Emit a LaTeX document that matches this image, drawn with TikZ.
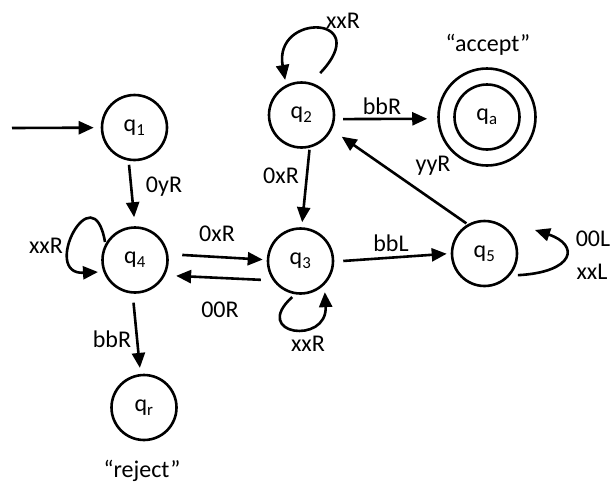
\documentclass[tikz,border=0pt]{standalone}
\usepackage{fontspec}
\setmainfont{Carlito}
\usetikzlibrary{arrows.meta,calc}
\newcommand{\qst}[1]{q\textsubscript{#1}}

\begin{document}
\begin{tikzpicture}[x=1pt, y=-1pt,
    state/.style={draw, circle, line width=2.6pt, minimum size=65pt, inner sep=0pt, font=\fontsize{24}{28}\selectfont},
    tr/.style={-{Triangle[length=15pt,width=13pt]}, line width=2.6pt},
    lbl/.style={font=\fontsize{24}{28}\selectfont, inner sep=0pt}]
    \useasboundingbox (0,0) rectangle (612,485);

    % states
    \node[state] (q1) at (134.5,127.5) {\qst{1}};
    \node[state] (q2) at (301.5,115) {\qst{2}};
    \node[state] (q3) at (300.5,261) {\qst{3}};
    \node[state] (q4) at (135,260) {\qst{4}};
    \node[state] (q5) at (484.5,253.5) {\qst{5}};
    \node[state] (qr) at (144,407.5) {\qst{r}};
    \node[state] (qa) at (487,117) {\qst{a}};
    \node[state, minimum size=97pt] (qaout) at (qa) {};
    \coordinate (start) at (12,128);

    % transitions
    \draw[tr, shorten >=7pt] (start) -- (q1);
    \draw[tr, shorten <=4pt, shorten >=9pt] (q1.-100) -- (q4.90);
    \draw[tr, shorten <=2pt, shorten >=5pt] (q2.-76) -- (q3.88);
    \draw[tr, shorten <=8pt, shorten >=10pt] (q2.-7) -- (qaout.-178);
    \draw[tr, shorten <=1.5pt, shorten >=12pt] (q5.120) -- (q2.-26);
    \draw[tr, shorten <=9pt, shorten >=4pt] (q3.-1) -- (q5.180);
    \draw[tr, shorten <=14pt, shorten >=4pt] (q4.10) -- (q3.178);
    \draw[tr, shorten <=12pt, shorten >=11pt] (q3.-145) -- (q4.-27);
    \draw[tr, shorten <=9pt, shorten >=6pt] (q4.-94) -- (qr.96);

    % loops
    \draw[tr] ($(q2)!45.9pt!(q2.66)$) .. controls +(55,-58) and +(-12,-68) .. ($(q2)!38.7pt!(q2.115)$);
    \draw[tr] ($(q3)!37pt!(q3.-103)$) .. controls +(-42,38) and +(3,53) .. ($(q3)!39.5pt!(q3.-52)$);
    \draw[tr] ($(q4)!35pt!(q4.149)$) .. controls +(-12,-70) and +(-58,3) .. ($(q4)!38.9pt!(q4.-162)$);
    \draw[tr] ($(q5)!39.8pt!(q5.-33)$) .. controls +(57,-3) and +(45,15) .. ($(q5)!55.7pt!(q5.25)$);

    % labels
    \node[lbl] (l14) at (164,187) {0yR};
    \node[lbl] (l23) at (281,176) {0xR};
    \node[lbl] (l22) at (343,21) {xxR};
    \node[lbl] (l2a) at (382,106) {bbR};
    \node[lbl] (acc) at (488,45) {“accept”};
    \node[lbl] (l52) at (433,166) {yyR};
    \node[lbl] (l35) at (391,243) {bbL};
    \node[lbl] (l43) at (217,234) {0xR};
    \node[lbl] (l34) at (220,310) {00R};
    \node[lbl] (l44) at (46,246) {xxR};
    \node[lbl] (l33) at (308,344) {xxR};
    \node[lbl] (l55a) at (593,239) {00L};
    \node[lbl] (l55b) at (592,272) {xxL};
    \node[lbl] (l4r) at (112,339) {bbR};
    \node[lbl] (rej) at (142,471) {“reject”};
\end{tikzpicture}
\end{document}
